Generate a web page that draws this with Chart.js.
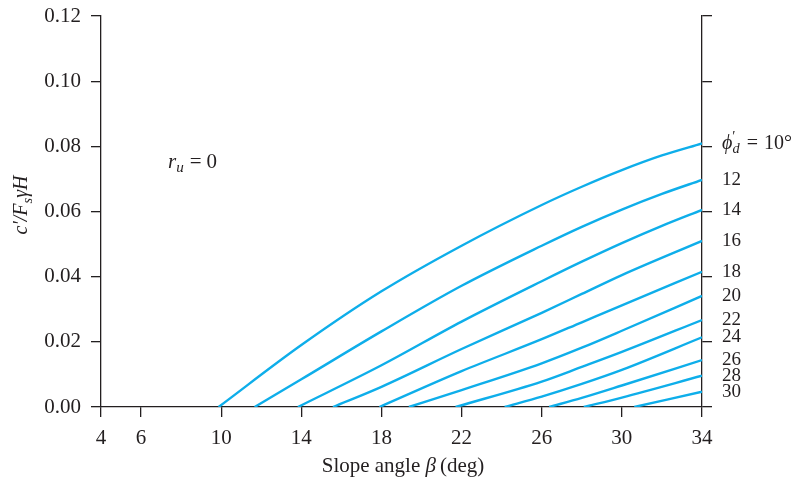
<!DOCTYPE html>
<html>
<head>
<meta charset="utf-8">
<script src="https://cdn.jsdelivr.net/npm/chart.js@4.4.1/dist/chart.umd.min.js"></script>
<style>
  html, body { margin: 0; padding: 0; background: #fff; }
  .chart-container { position: relative; width: 805px; height: 485px; }
</style>
</head>
<body>
<div class="chart-container"><canvas id="chart"></canvas></div>
<script>
// x axis tick values (slope angle, deg)
const xTicks = [4, 6, 10, 14, 18, 22, 26, 30, 34];

// curve labels (phi'_d, deg)
const phiValues = [10, 12, 14, 16, 18, 20, 22, 24, 26, 28, 30];

// slope angle points of each curve
const beta10 = [9.87, 14, 18, 22, 26, 28, 30, 32, 34];
const beta12 = [11.67, 14, 18, 22, 26, 28, 30, 32, 34];
const beta14 = [13.83, 18, 22, 26, 28, 30, 32, 34];
const beta16 = [15.58, 18, 22, 26, 28, 30, 34];
const beta18 = [17.9, 22, 26, 28, 30, 34];
const beta20 = [19.37, 22, 26, 28, 30, 34];
const beta22 = [21.7, 26, 28, 30, 34];
const beta24 = [24.15, 26, 28, 30, 34];
const beta26 = [26.37, 28, 30, 34];
const beta28 = [28.1, 30, 34];
const beta30 = [30.62, 34];

// c'/(Fs gamma H) values
const val10 = [0, 0.019, 0.0355, 0.0495, 0.062, 0.0676, 0.0727, 0.0772, 0.0809];
const val12 = [0, 0.0085, 0.0232, 0.0372, 0.0495, 0.0553, 0.0606, 0.0654, 0.0697];
const val14 = [0, 0.0128, 0.0262, 0.0386, 0.0446, 0.0503, 0.0556, 0.0605];
const val16 = [0, 0.0062, 0.0178, 0.0289, 0.0347, 0.0405, 0.051];
const val18 = [0, 0.011, 0.0208, 0.026, 0.0312, 0.0415];
const val20 = [0, 0.0052, 0.0134, 0.0182, 0.0234, 0.0341];
const val22 = [0, 0.0078, 0.0123, 0.0169, 0.0267];
const val24 = [0, 0.0032, 0.0071, 0.0114, 0.0214];
const val26 = [0, 0.0028, 0.0066, 0.0144];
const val28 = [0, 0.0029, 0.0096];
const val30 = [0, 0.0047];

const curves = [
  [beta10, val10], [beta12, val12], [beta14, val14], [beta16, val16],
  [beta18, val18], [beta20, val20], [beta22, val22], [beta24, val24],
  [beta26, val26], [beta28, val28], [beta30, val30],
];

const LINE = '#0eaeea';
const INK = '#231f20';
const FONT = '"Liberation Serif", "DejaVu Serif", serif';

const datasets = curves.map(([bx, vy], i) => ({
  label: 'phi ' + phiValues[i],
  data: bx.map((b, k) => ({ x: b, y: vy[k] })),
  borderColor: LINE,
  borderWidth: 2.4,
  pointRadius: 0,
  cubicInterpolationMode: 'monotone',
  fill: false,
}));

// draw a run of text pieces (italic / subscript / superscript)
function drawRich(ctx, parts, x, y, size) {
  let cx = x;
  parts.forEach((p) => {
    const s = p.sub || p.sup ? size * 0.72 : size;
    ctx.font = (p.italic ? 'italic ' : '') + s + 'px ' + FONT;
    let dy = 0;
    if (p.sub) dy = size * 0.3;
    if (p.sup) dy = -size * 0.3;
    ctx.fillText(p.t, cx, y + dy);
    cx += ctx.measureText(p.t).width + (p.gap || 0);
  });
  return cx - x;
}

function richWidth(ctx, parts, size) {
  let w = 0;
  parts.forEach((p) => {
    const s = p.sub || p.sup ? size * 0.72 : size;
    ctx.font = (p.italic ? 'italic ' : '') + s + 'px ' + FONT;
    w += ctx.measureText(p.t).width + (p.gap || 0);
  });
  return w;
}

const textPlugin = {
  id: 'textPlugin',
  afterDraw(chart) {
    const ctx = chart.ctx;
    const y = chart.scales.y;
    ctx.save();
    ctx.fillStyle = INK;
    ctx.textBaseline = 'middle';
    ctx.textAlign = 'left';

    // curve labels at right edge
    curves.forEach(([bx, vy], i) => {
      const py = y.getPixelForValue(vy[vy.length - 1]);
      if (i === 0) {
        drawRich(ctx, [
          { t: 'ϕ', italic: true, gap: 0 },
          { t: '′', sup: true, gap: -3 },
          { t: 'd', italic: true, sub: true, gap: 7 },
          { t: '=', gap: 6 },
          { t: '10°' },
        ], 722, py, 20);
      } else {
        drawRich(ctx, [{ t: String(phiValues[i]) }], 722, py, 19);
      }
    });

    // r_u = 0
    drawRich(ctx, [
      { t: 'r', italic: true },
      { t: 'u', italic: true, sub: true, gap: 6 },
      { t: '=', gap: 5 },
      { t: '0' },
    ], 168, 162, 21);

    // x title
    const xParts = [{ t: 'Slope angle ' }, { t: 'β', italic: true, gap: 4 }, { t: '(deg)' }];
    const xw = richWidth(ctx, xParts, 21);
    drawRich(ctx, xParts, 403 - xw / 2, 466, 21);

    // y title (rotated)
    const yParts = [
      { t: 'c', italic: true },
      { t: '′', italic: true },
      { t: '/F', italic: true },
      { t: 's', italic: true, sub: true },
      { t: 'γH', italic: true },
    ];
    const yw = richWidth(ctx, yParts, 20);
    ctx.translate(22, 205);
    ctx.rotate(-Math.PI / 2);
    drawRich(ctx, yParts, -yw / 2, 0, 20);
    ctx.restore();
  },
};

const axisGrid = {
  display: true,
  drawOnChartArea: false,
  drawTicks: true,
  tickLength: 10,
  color: INK,
  lineWidth: 1.3,
};
const axisBorder = { display: true, color: INK, width: 1.3 };

new Chart(document.getElementById('chart').getContext('2d'), {
  type: 'line',
  data: { datasets },
  options: {
    responsive: true,
    maintainAspectRatio: false,
    animation: false,
    layout: { padding: { top: 16, left: 0, right: 0, bottom: 0 } },
    plugins: {
      legend: { display: false },
      tooltip: { enabled: false },
    },
    scales: {
      x: {
        type: 'linear',
        min: 4,
        max: 34,
        grid: axisGrid,
        border: axisBorder,
        afterBuildTicks: (axis) => { axis.ticks = xTicks.map((v) => ({ value: v })); },
        afterFit: (axis) => {
          axis.height = 78;
          axis.paddingLeft = 0;
          axis.paddingRight = 0;
        },
        ticks: {
          color: INK,
          padding: 9,
          maxRotation: 0,
          autoSkip: false,
          font: { family: FONT, size: 21 },
        },
      },
      y: {
        type: 'linear',
        position: 'left',
        min: 0,
        max: 0.12,
        grid: axisGrid,
        border: axisBorder,
        afterFit: (axis) => {
          axis.width = 101;
          axis.paddingTop = 0;
          axis.paddingBottom = 0;
        },
        ticks: {
          stepSize: 0.02,
          color: INK,
          padding: 10,
          font: { family: FONT, size: 21 },
          callback: (v) => v.toFixed(2),
        },
      },
      y2: {
        type: 'linear',
        position: 'right',
        min: 0,
        max: 0.12,
        grid: axisGrid,
        border: axisBorder,
        afterFit: (axis) => {
          axis.width = 103;
          axis.paddingTop = 0;
          axis.paddingBottom = 0;
        },
        ticks: { stepSize: 0.02, display: false },
      },
    },
  },
  plugins: [textPlugin],
});
</script>
</body>
</html>
